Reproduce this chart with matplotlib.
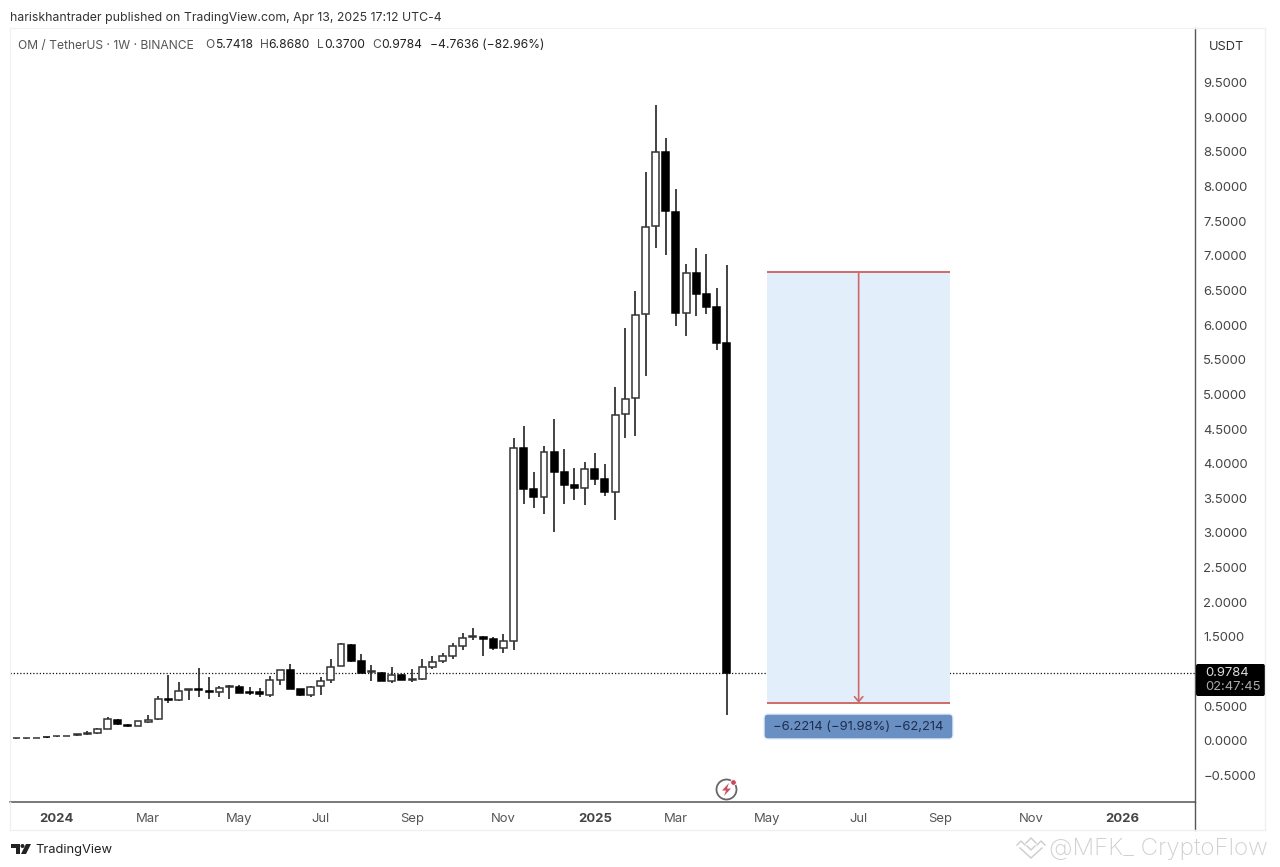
""" OM / TetherUS weekly candles with a price range measure on top """

import numpy as np
import pandas as pd
import matplotlib.pyplot as plt
from matplotlib.patches import FancyBboxPatch, Circle, Polygon

plt.rcParams['font.family'] = ['Inter', 'DejaVu Sans']

# Weekly bars, Dec 2023 to Apr 2025
weeks = pd.date_range('2023-12-04', periods=71, freq='7D')
opens = [0.035, 0.035, 0.038, 0.055, 0.063, 0.068, 0.082, 0.103, 0.107, 0.173,
         0.299, 0.231, 0.217, 0.270, 0.309, 0.606, 0.583, 0.730, 0.740, 0.718,
         0.699, 0.780, 0.775, 0.700, 0.700, 0.664, 0.881, 1.025, 0.742, 0.655,
         0.785, 0.876, 1.083, 1.382, 1.151, 0.990, 0.982, 0.862, 0.949, 0.872,
         0.886, 1.068, 1.146, 1.227, 1.372, 1.500, 1.502, 1.473, 1.343, 1.435,
         4.230, 3.638, 3.514, 4.173, 3.880, 3.696, 3.653, 3.923, 3.774, 3.595,
         4.713, 4.944, 6.157, 7.431, 8.495, 7.638, 6.180, 6.753, 6.454, 6.258,
         5.7418]
highs = [0.037, 0.037, 0.042, 0.058, 0.070, 0.072, 0.095, 0.140, 0.180, 0.347,
         0.315, 0.240, 0.285, 0.371, 0.645, 0.949, 0.848, 0.745, 1.050, 0.915,
         0.794, 0.800, 0.804, 0.775, 0.761, 0.934, 1.025, 1.103, 0.750, 0.790,
         0.915, 1.175, 1.406, 1.390, 1.252, 1.093, 0.990, 1.068, 0.960, 1.031,
         1.175, 1.223, 1.271, 1.415, 1.551, 1.632, 1.510, 1.493, 1.536, 4.366,
         4.544, 3.875, 4.255, 4.640, 4.210, 3.937, 4.020, 4.158, 3.995, 5.100,
         5.954, 6.493, 8.206, 9.178, 8.698, 7.966, 6.878, 7.110, 7.023, 6.541,
         6.8680]
lows = [0.030, 0.030, 0.032, 0.045, 0.058, 0.062, 0.075, 0.080, 0.100, 0.165,
        0.230, 0.205, 0.212, 0.260, 0.305, 0.549, 0.569, 0.588, 0.627, 0.606,
        0.635, 0.606, 0.684, 0.655, 0.635, 0.631, 0.809, 0.745, 0.640, 0.635,
        0.660, 0.838, 1.079, 1.136, 0.975, 0.866, 0.855, 0.833, 0.870, 0.852,
        0.880, 1.031, 1.118, 1.175, 1.310, 1.454, 1.227, 1.310, 1.262, 1.310,
        3.418, 3.364, 3.273, 3.013, 3.418, 3.475, 3.403, 3.687, 3.533, 3.186,
        4.366, 4.404, 5.270, 7.110, 7.013, 5.992, 5.848, 6.132, 6.166, 5.640,
        0.3700]
closes = [0.035, 0.035, 0.042, 0.050, 0.065, 0.068, 0.090, 0.107, 0.169, 0.310,
          0.237, 0.212, 0.280, 0.295, 0.606, 0.588, 0.718, 0.740, 0.730, 0.699,
          0.765, 0.790, 0.693, 0.690, 0.670, 0.872, 1.025, 0.751, 0.655, 0.775,
          0.866, 1.068, 1.392, 1.155, 0.982, 1.000, 0.862, 0.953, 0.876, 0.890,
          1.064, 1.141, 1.219, 1.363, 1.487, 1.510, 1.473, 1.343, 1.435, 4.226,
          3.634, 3.514, 4.173, 3.880, 3.696, 3.653, 3.918, 3.774, 3.595, 4.707,
          4.934, 6.151, 7.420, 8.495, 7.644, 6.175, 6.753, 6.450, 6.258, 5.742,
          0.9784]

last_close = 0.9784
range_top, range_bottom = 6.7684, 0.5470
range_start, range_mid, range_end = '2025-05-05', '2025-07-07', '2025-09-08'

price_ticks = np.arange(-0.5, 9.6, 0.5)
date_ticks = ['2024-01-01', '2024-03-04', '2024-05-06', '2024-07-01', '2024-09-02',
              '2024-11-04', '2025-01-06', '2025-03-03', '2025-05-05', '2025-07-07',
              '2025-09-01', '2025-11-03', '2026-01-05']
date_labels = ['2024', 'Mar', 'May', 'Jul', 'Sep', 'Nov', '2025',
               'Mar', 'May', 'Jul', 'Sep', 'Nov', '2026']
ohlc_tags = ['O', 'H', 'L', 'C']
ohlc_text = ['5.7418', '6.8680', '0.3700', '0.9784']

W, H = 1280, 867
fig = plt.figure(figsize=(12.8, 8.67), dpi=100, facecolor='white')

# Chart pane, placed in pixels: x 10-1195, y 28-802
ax = fig.add_axes([10/W, 1 - 802/H, 1185/W, 774/H])
px_per_day = 10.15/7
last_week = weeks[-1]
ax.set_xlim(last_week - pd.Timedelta(days=(726.7 - 10)/px_per_day),
            last_week + pd.Timedelta(days=(1195 - 726.7)/px_per_day))
ax.set_ylim((740.7 - 802)/69.26, (740.7 - 28)/69.26)

for d, o, h, l, c in zip(weeks, opens, highs, lows, closes):
    up = c >= o
    ax.vlines(d, l, h, color='#222222', linewidth=1.2, zorder=2)
    ax.bar(d, abs(c - o), bottom=min(o, c), width=4.8,
           facecolor='white' if up else 'black', edgecolor='#333333' if up else 'black',
           linewidth=1.1, zorder=3)

# Last price line
ax.axhline(last_close, color='#111111', linestyle=(0, (1, 1.6)), linewidth=0.9, zorder=1)

# Price range measure
start, mid, end = pd.Timestamp(range_start), pd.Timestamp(range_mid), pd.Timestamp(range_end)
ax.fill_between([start, end], range_bottom, range_top, color='#e3eefb', zorder=2, linewidth=0)
ax.hlines([range_top, range_bottom], start, end, color='#cf6a6a', linewidth=1.4, zorder=4)
ax.annotate('', xy=(mid, range_bottom), xytext=(mid, range_top), zorder=4,
            arrowprops=dict(arrowstyle='->,head_length=0.35,head_width=0.3', color='#cf6a6a',
                            linewidth=1.2, shrinkA=0, shrinkB=0))

# Axes look. The 1.0000 label sits behind the last price tag, so it stays empty
ax.yaxis.tick_right()
ax.set_yticks(price_ticks)
ax.set_yticklabels(['' if p == 1.0 else f'{p:.4f}'.replace('-', '\u2212') for p in price_ticks],
                   fontsize=9.4, color='#444444')
ax.set_xticks(pd.to_datetime(date_ticks))
ax.set_xticklabels(date_labels, fontsize=9.4, color='#555555')
for lab in ax.get_xticklabels():
    if lab.get_text().isdigit():
        lab.set_fontweight('bold')
        lab.set_color('#444444')
ax.tick_params(axis='both', length=0)
ax.tick_params(axis='y', pad=6)
ax.tick_params(axis='x', pad=8)
ax.spines['left'].set_color('#f0f0f0')
ax.spines['top'].set_color('#f0f0f0')
ax.spines['right'].set_color('#555555')
ax.spines['bottom'].set_color('#555555')
ax.spines['bottom'].set_linewidth(1.1)
ax.spines['right'].set_linewidth(1.0)

# Everything outside the data scales goes on a pixel overlay
ov = fig.add_axes([0, 0, 1, 1], facecolor='none')
ov.set_xlim(0, W)
ov.set_ylim(H, 0)
ov.axis('off')

ov.text(10, 17.5, 'hariskhantrader published on TradingView.com, Apr 13, 2025 17:12 UTC-4',
        fontsize=8.83, color='#333333', va='center')
ov.text(18, 45.5, 'OM / TetherUS \u00b7 1W \u00b7 BINANCE', fontsize=8.7, color='#555555', va='center')
for x_tag, x_val, tag, val in zip([205, 260, 317, 372], [215, 268, 324, 381], ohlc_tags, ohlc_text):
    ov.text(x_tag, 45.5, tag, fontsize=8.7, color='#555555', va='center')
    ov.text(x_val, 45.5, val, fontsize=8.7, color='#222222', va='center')
ov.text(430, 45.5, '\u22124.7636 (\u221282.96%)', fontsize=8.7, color='#222222', va='center')

# Frame bits around the axis strips
ov.plot([1195, 1195], [802, 830], color='#555555', linewidth=1.0)
ov.plot([10, 1265], [830, 830], color='#f0f0f0', linewidth=1)
ov.plot([10, 10], [802, 830], color='#f0f0f0', linewidth=1)
ov.plot([1195, 1265, 1265], [28, 28, 830], color='#f0f0f0', linewidth=1)

ov.text(1226, 46.5, 'USDT', fontsize=9.2, color='#333333', ha='center', va='center')

# Last price tag
ov.add_patch(FancyBboxPatch((1196, 664), 69, 32, boxstyle='round,pad=0,rounding_size=2',
                            facecolor='black', edgecolor='none'))
ov.text(1205, 673, '0.9784', fontsize=9.4, color='#dddddd', va='center')
ov.text(1205, 687, '02:47:45', fontsize=9.4, color='#aaaaaa', va='center')

# Measure label
ov.add_patch(FancyBboxPatch((764, 714), 189, 25, boxstyle='round,pad=0,rounding_size=4',
                            facecolor='#6a8fc2', edgecolor='#e3eefb', linewidth=1))
ov.text(858, 727, '\u22126.2214 (\u221291.98%) \u221262,214', fontsize=9.4,
        color='#1d2f50', ha='center', va='center')

# Lightning badge
ov.add_patch(Circle((726.5, 789.5), 10, facecolor='white', edgecolor='#666666', linewidth=1.3))
ov.add_patch(Polygon([(729, 783), (722, 790.5), (726, 790.5), (724, 796), (731, 788.5), (727, 788.5)],
                     facecolor='#c8505f', edgecolor='none'))
ov.add_patch(Circle((733.5, 782.5), 2.8, facecolor='#d0445a', edgecolor='white', linewidth=0.6))

# TradingView footer logo
ov.add_patch(Polygon([(11, 844), (20, 844), (20, 854), (16, 854), (16, 848), (11, 848)],
                     facecolor='#222222', edgecolor='none'))
ov.add_patch(Circle((22.5, 846), 2, facecolor='#222222', edgecolor='none'))
ov.add_patch(Polygon([(26, 844), (31, 844), (26, 854), (21, 854)], facecolor='#222222', edgecolor='none'))
ov.text(35, 850, 'TradingView', fontsize=9.3, color='#222222', va='center')

# Watermark
ov.text(1049, 849, '@MFK_ CryptoFlow', fontsize=17.4, color='#d0d0d0', va='center', fontweight='light')
chevrons = [[(1026, 843), (1031, 838), (1036, 843)],
            [(1017, 845), (1021, 841), (1025, 845)],
            [(1037, 845), (1041, 841), (1045, 845)],
            [(1027, 846), (1031, 850), (1035, 846)],
            [(1020, 848), (1031, 858), (1042, 848)]]
for chev in chevrons:
    ov.plot([p[0] for p in chev], [p[1] for p in chev], color='#cccccc', linewidth=1)

fig.savefig('out.png', dpi=100)
